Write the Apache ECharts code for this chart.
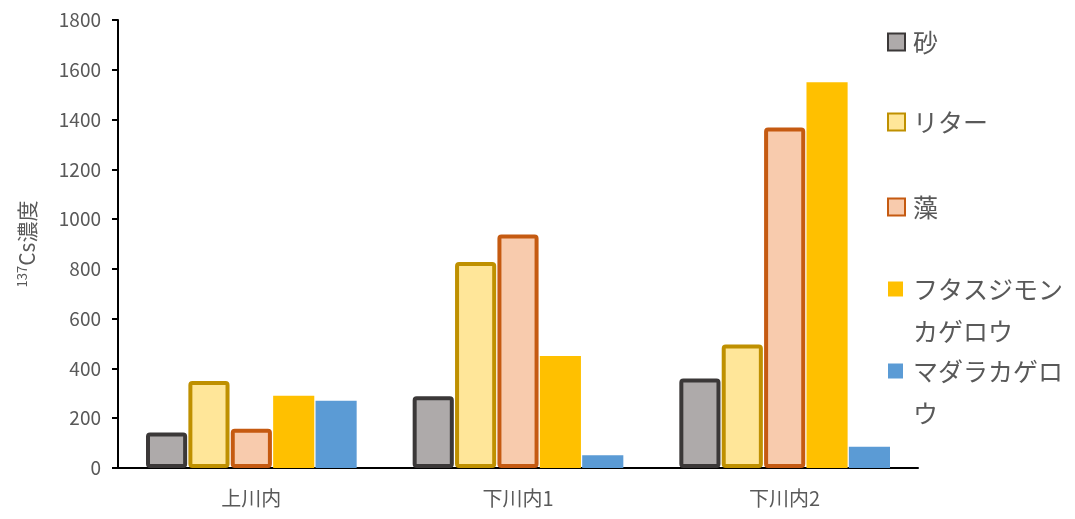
<!DOCTYPE html>
<html>
<head>
<meta charset="utf-8">
<script src="https://cdn.jsdelivr.net/npm/echarts@6/dist/echarts.min.js"></script>
<style>
  html, body { margin: 0; padding: 0; background: #fff; }
  #chart { width: 1075px; height: 519px; }
</style>
</head>
<body>
<div id="chart"></div>
<script>
// Sampling sites
const categories = ['上川内', '下川内1', '下川内2'];

// 137Cs concentration per sample type at each site
const sand      = [143, 288, 360];   // 砂
const litter    = [350, 828, 496];   // リター
const algae     = [158, 938, 1368];  // 藻
const futasuji  = [290, 450, 1550];  // フタスジモンカゲロウ
const madara    = [270, 51, 85];     // マダラカゲロウ

const yTicks = { min: 0, max: 1800, interval: 200 };

const FONT = '"Noto Sans CJK JP", "Noto Sans", sans-serif';
const TEXT = '#595959';
const LEGEND_LINE = 42;

const seriesDefs = [
  { name: '砂', data: sand, fill: '#AEAAAA', border: '#3B3838', bw: 4 },
  { name: 'リター', data: litter, fill: '#FFE699', border: '#BF9000', bw: 4 },
  { name: '藻', data: algae, fill: '#F8CBAD', border: '#C55A11', bw: 4 },
  { name: 'フタスジモンカゲロウ', data: futasuji, fill: '#FFC000', border: null, bw: 0 },
  { name: 'マダラカゲロウ', data: madara, fill: '#5B9BD5', border: null, bw: 0 }
];

// Vertical centre of each legend marker; long names wrap onto a second line
const legendCenters = [42, 122, 207, 289, 371];
const legendLabels = {
  'フタスジモンカゲロウ': 'フタスジモン\nカゲロウ',
  'マダラカゲロウ': 'マダラカゲロ\nウ'
};

const chart = echarts.init(document.getElementById('chart'), null, { renderer: 'canvas' });

chart.setOption({
  animation: false,
  backgroundColor: '#fff',
  textStyle: { fontFamily: FONT },
  grid: { left: 118, right: 157, top: 20, bottom: 51, containLabel: false },
  legend: seriesDefs.map((s, i) => {
    const wrapped = !!legendLabels[s.name];
    // a blank leading line keeps the marker level with the first text line
    const top = legendCenters[i] - (wrapped ? LEGEND_LINE * 1.5 : LEGEND_LINE / 2);
    return {
      data: [s.name],
      orient: 'vertical',
      left: s.border ? 887 : 888,
      top: top,
      padding: 0,
      itemWidth: s.border ? 17 : 15,
      itemHeight: s.border ? 17 : 15,
      itemGap: 0,
      icon: 'rect',
      selectedMode: false,
      formatter: name => wrapped ? ' \n' + legendLabels[name] : name,
      textStyle: {
        fontSize: 25, color: TEXT, fontFamily: FONT, lineHeight: LEGEND_LINE,
        padding: [0, 0, 0, s.border ? 3 : 5]
      }
    };
  }),
  xAxis: {
    type: 'category',
    data: categories,
    axisLine: { lineStyle: { color: '#000', width: 2 } },
    axisTick: { show: false },
    axisLabel: { fontSize: 20, color: TEXT, fontFamily: FONT, margin: 20 }
  },
  yAxis: {
    type: 'value',
    min: yTicks.min,
    max: yTicks.max,
    interval: yTicks.interval,
    name: '{sup|137}{n|Cs濃度}',
    nameLocation: 'middle',
    nameRotate: 90,
    nameGap: 80,
    nameTextStyle: {
      rich: {
        sup: { fontSize: 13, color: TEXT, fontFamily: FONT, padding: [0, 0, 9, 0] },
        n: { fontSize: 21, color: TEXT, fontFamily: FONT }
      }
    },
    axisLine: { show: true, lineStyle: { color: '#000', width: 2 } },
    axisTick: { show: true, length: 6, lineStyle: { color: '#000', width: 2 } },
    splitLine: { show: false },
    axisLabel: {
      fontSize: 19, color: TEXT, fontFamily: FONT, margin: 17,
      formatter: v => String(v)
    }
  },
  series: seriesDefs.map(s => ({
    name: s.name,
    type: 'bar',
    data: s.data,
    barGap: '3%',
    barCategoryGap: '21%',
    itemStyle: {
      color: s.fill,
      borderColor: s.border || s.fill,
      borderWidth: s.bw,
      borderRadius: s.border ? 2 : 0
    }
  }))
});
</script>
</body>
</html>
